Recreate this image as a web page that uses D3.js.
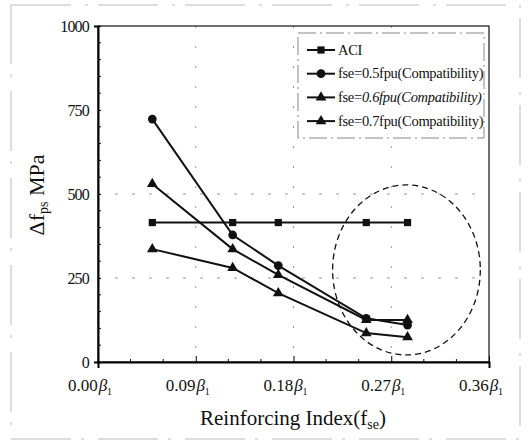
<!DOCTYPE html>
<html>
<head>
<meta charset="utf-8">
<script src="https://d3js.org/d3.v7.min.js"></script>
<style>
  body { margin: 0; background: #fff; }
</style>
</head>
<body>
<svg id="chart" width="530" height="443"></svg>
<script>
// data
let xValues = [0.05, 0.124, 0.166, 0.247, 0.285];
let aci     = [415, 415, 415, 415, 415];
let fse05   = [723, 378, 287, 130, 110];
let fse06   = [530, 336, 259, 125, 125];
let fse07   = [336, 280, 205, 86, 74];
let seriesNames = ["ACI", "fse=0.5fpu(Compatibility)", "fse=0.6fpu(Compatibility)", "fse=0.7fpu(Compatibility)"];
let xTicks = [0, 0.09, 0.18, 0.27, 0.36];
let xTickLabels = ["0.00", "0.09", "0.18", "0.27", "0.36"];
let yTicks = [0, 250, 500, 750, 1000];

let serif = "'Liberation Serif'";
let margin = {top: 26, right: 41, bottom: 81, left: 98};
let svgWidth = 530, svgHeight = 443;
let width = svgWidth - margin.left - margin.right,
    height = svgHeight - margin.top - margin.bottom;

let x = d3.scaleLinear().domain([0, 0.36]).range([0, width]);
let y = d3.scaleLinear().domain([0, 1000]).range([height, 0]);

let root = d3.select("#chart").style("font-family", serif);

// faint scanned frame
root.append("rect")
    .attr("x", 11).attr("y", 5).attr("width", 509).attr("height", 434)
    .attr("fill", "none").attr("stroke", "#bbb").attr("stroke-width", 1)
    .attr("stroke-dasharray", "60,14,3,10");

let svg = root.append("g")
    .attr("transform", "translate(" + margin.left + "," + margin.top + ")");

// grid
svg.selectAll(".vgrid").data([0.09, 0.18, 0.27]).enter().append("line")
    .attr("x1", d => x(d)).attr("x2", d => x(d))
    .attr("y1", 0).attr("y2", height)
    .attr("stroke", "#999").attr("stroke-width", 1).attr("stroke-dasharray", "2,18");
svg.selectAll(".hgrid").data([250, 500]).enter().append("line")
    .attr("y1", d => y(d)).attr("y2", d => y(d))
    .attr("x1", 0).attr("x2", width)
    .attr("stroke", "#999").attr("stroke-width", 1).attr("stroke-dasharray", "3,14");

// frame of the plot
svg.append("rect")
    .attr("width", width).attr("height", height)
    .attr("fill", "none").attr("stroke", "#111").attr("stroke-width", 1.2);

// axes
let xAxis = svg.append("g")
    .attr("transform", "translate(0," + height + ")")
    .call(d3.axisBottom(x).tickValues(xTicks).tickSize(6).tickFormat(""));
xAxis.select(".domain").attr("stroke-width", 2);
xAxis.selectAll(".tick line").attr("y1", -6).attr("y2", 0);

// minor x ticks
svg.selectAll(".xminor").data(d3.range(0.03, 0.36, 0.03).filter(v => Math.abs(v / 0.09 - Math.round(v / 0.09)) > 0.01))
    .enter().append("line")
    .attr("x1", d => x(d)).attr("x2", d => x(d))
    .attr("y1", height - 3).attr("y2", height)
    .attr("stroke", "#111");

let xl = svg.selectAll(".xlab").data(xTicks).enter().append("text")
    .attr("x", d => x(d) - 8).attr("y", height + 29)
    .attr("text-anchor", "middle").attr("font-size", "17px")
    .style("font-family", serif).attr("fill", "#111");
xl.append("tspan").text((d, i) => xTickLabels[i]);
xl.append("tspan").text("β").attr("font-style", "italic").attr("dx", 1);
xl.append("tspan").text("1").attr("font-size", "10px").attr("dy", 4);

let yAxis = svg.append("g")
    .call(d3.axisLeft(y).tickValues(yTicks).tickSize(4).tickFormat(d => d));
yAxis.attr("font-family", null);
yAxis.select(".domain").attr("stroke-width", 2);
yAxis.selectAll(".tick line").attr("x1", 0).attr("x2", 3);
yAxis.selectAll(".tick text")
    .attr("x", -9).attr("font-size", "16px").attr("letter-spacing", "-0.8px")
    .style("font-family", serif).attr("fill", "#111");

svg.selectAll(".yminor").data(d3.range(50, 1000, 50).filter(v => v % 250 !== 0))
    .enter().append("line")
    .attr("y1", d => y(d)).attr("y2", d => y(d))
    .attr("x1", 0).attr("x2", 3)
    .attr("stroke", "#111");

// axis titles
let xt = root.append("text")
    .attr("x", 293).attr("y", 425)
    .attr("text-anchor", "middle").attr("font-size", "21px")
    .style("font-family", serif).attr("fill", "#111");
xt.append("tspan").text("Reinforcing Index(f");
xt.append("tspan").text("se").attr("font-size", "14px").attr("dy", 4);
xt.append("tspan").text(")").attr("dy", -4);

let yt = root.append("text")
    .attr("transform", "translate(44,195) rotate(-90)")
    .attr("text-anchor", "middle").attr("font-size", "22px")
    .style("font-family", serif).attr("fill", "#111");
yt.append("tspan").text("Δf");
yt.append("tspan").text("ps").attr("font-size", "14px").attr("dy", 4);
yt.append("tspan").text(" MPa").attr("dy", -4);

// series
let series = [
    {values: aci, marker: "square"},
    {values: fse05, marker: "circle"},
    {values: fse06, marker: "triangle"},
    {values: fse07, marker: "triangle"}
];
let line = d3.line().x(d => x(d[0])).y(d => y(d[1]));
let symbolOf = {
    square: d3.symbol().type(d3.symbolSquare).size(52),
    circle: d3.symbol().type(d3.symbolCircle).size(60),
    triangle: d3.symbol().type(d3.symbolTriangle).size(50)
};

series.forEach(s => {
    let pts = xValues.map((v, i) => [v, s.values[i]]);
    svg.append("path").datum(pts)
        .attr("d", line).attr("fill", "none")
        .attr("stroke", "#111").attr("stroke-width", 2);
    svg.selectAll(null).data(pts).enter().append("path")
        .attr("d", symbolOf[s.marker])
        .attr("transform", d => "translate(" + x(d[0]) + "," + y(d[1]) + ")")
        .attr("fill", "#111");
});

// dashed ring marking the converging region
svg.append("ellipse")
    .attr("cx", x(0.284)).attr("cy", y(274))
    .attr("rx", x(0.068) - x(0)).attr("ry", y(0) - y(253))
    .attr("fill", "none").attr("stroke", "#111").attr("stroke-width", 1.3)
    .attr("stroke-dasharray", "6,4");

// legend
let legend = root.append("g").attr("transform", "translate(298,33)");
legend.append("rect")
    .attr("width", 186).attr("height", 105)
    .attr("fill", "#fff").attr("stroke", "#888").attr("stroke-width", 1)
    .attr("stroke-dasharray", "18,4,2,4");
let rows = legend.selectAll(".row").data(seriesNames).enter().append("g")
    .attr("transform", (d, i) => "translate(0," + (17 + i * 23.7) + ")");
rows.append("line")
    .attr("x1", 9).attr("x2", 37)
    .attr("stroke", "#111").attr("stroke-width", 2);
rows.append("path")
    .attr("d", (d, i) => symbolOf[series[i].marker]())
    .attr("transform", "translate(23,0)")
    .attr("fill", "#111");
let labels = rows.append("text")
    .attr("x", 40).attr("y", 4.5)
    .attr("font-size", "14.5px").attr("letter-spacing", "-0.3px")
    .style("font-family", serif).attr("fill", "#111");
// the third entry is set partly in italics in the original
labels.each(function(d, i) {
    let t = d3.select(this);
    if (i === 2) {
        t.append("tspan").text(d.slice(0, 4));
        t.append("tspan").text(d.slice(4)).attr("font-style", "italic");
    } else {
        t.text(d);
    }
});
</script>
</body>
</html>
